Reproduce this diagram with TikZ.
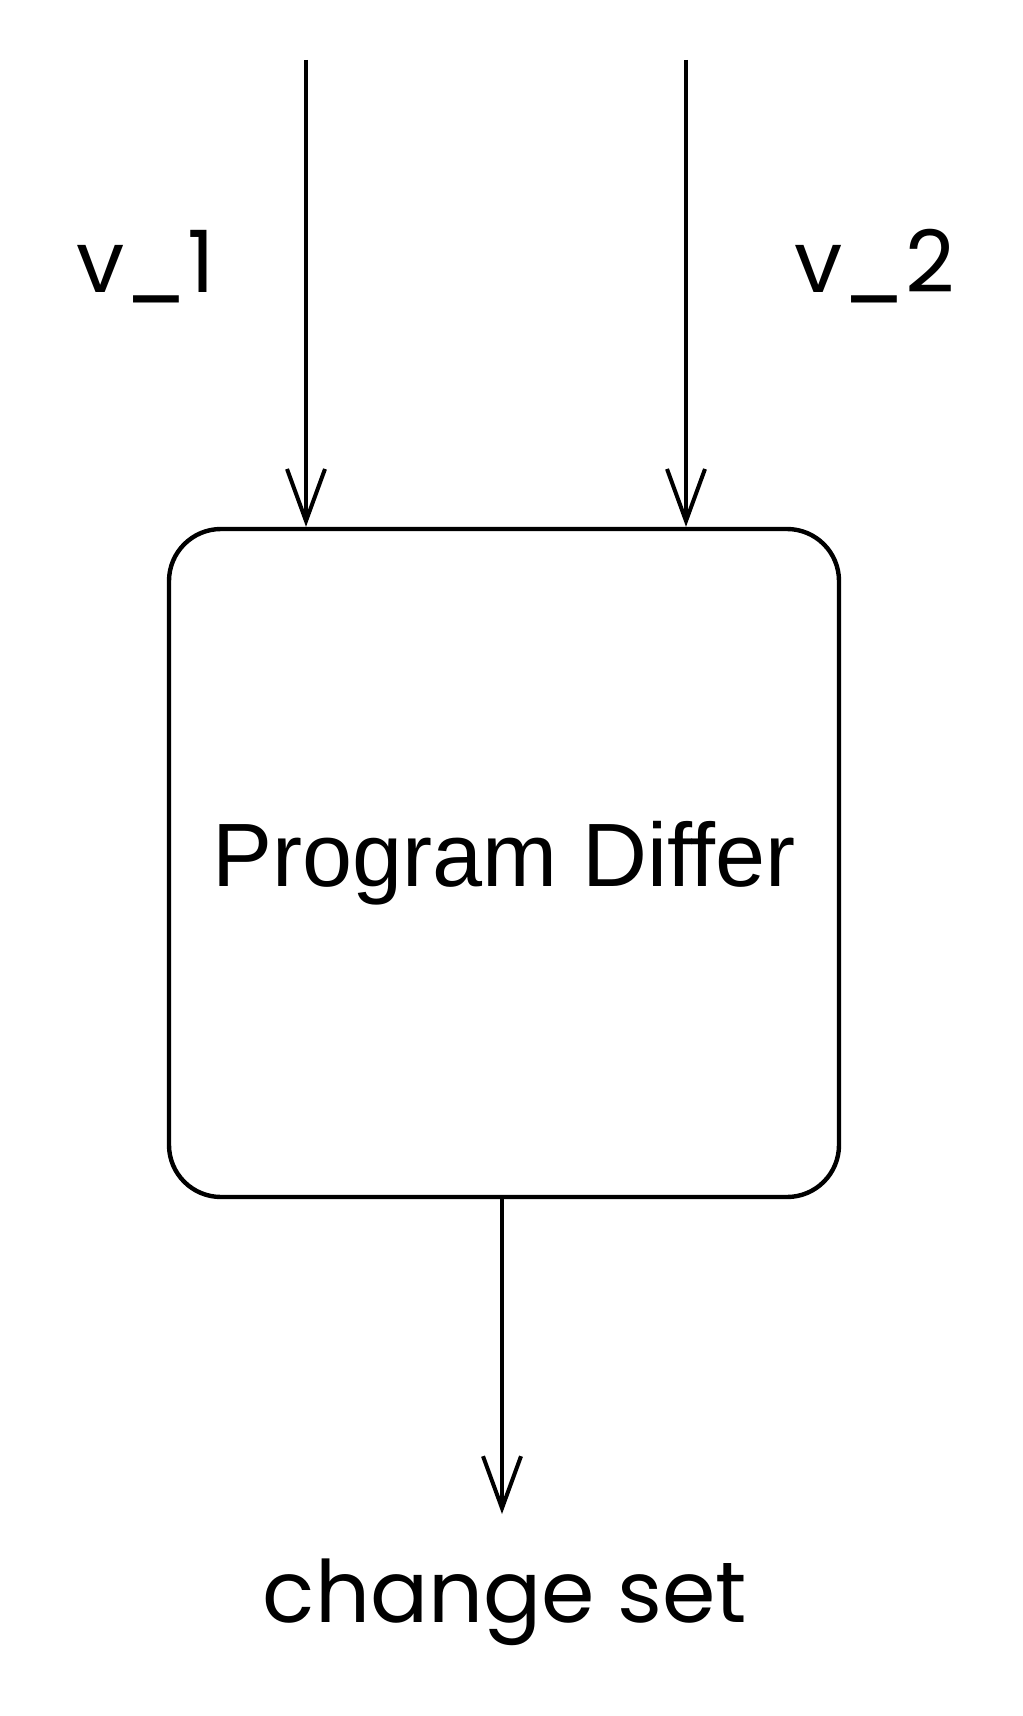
\documentclass[tikz,border=0pt]{standalone}
\usepackage{fontspec}
\setmainfont{Liberation Sans}
\newfontfamily\labelfont{Poppins}
\usetikzlibrary{positioning}
\usetikzlibrary{arrows, arrows.meta}

\tikzset{
  differbox/.style={draw, rounded corners=26pt, inner sep=0pt,
    minimum width=335pt, minimum height=334pt, line width=2.2pt,
    font=\fontsize{45}{50}\selectfont},
  streamlabel/.style={inner sep=0pt, anchor=base,
    font=\labelfont\fontsize{43}{50}\selectfont}
}

\begin{document}
\begin{tikzpicture}[x=0.5pt, y=-0.5pt, line width=2pt,
    >={Straight Barb[length=26pt, width=19pt]}]
  \useasboundingbox (0,0) rectangle (1022,1716);

  \node (differ) [differbox] at (504,863) {Program Differ};

  \coordinate (IN1) at (306,60);
  \coordinate (IN2) at (686,60);
  \draw [->] (IN1) -- (IN1 |- differ.north);
  \draw [->] (IN2) -- (IN2 |- differ.north);

  \node (V1) [streamlabel] at (146,293) {v\_1};
  \node (V2) [streamlabel] at (875,293) {v\_2};

  \coordinate (OUT) at (502,1514);
  \draw [->] (differ.south -| OUT) -- (OUT);

  \node (changes) [streamlabel] at (505,1622) {change set};
\end{tikzpicture}
\end{document}
